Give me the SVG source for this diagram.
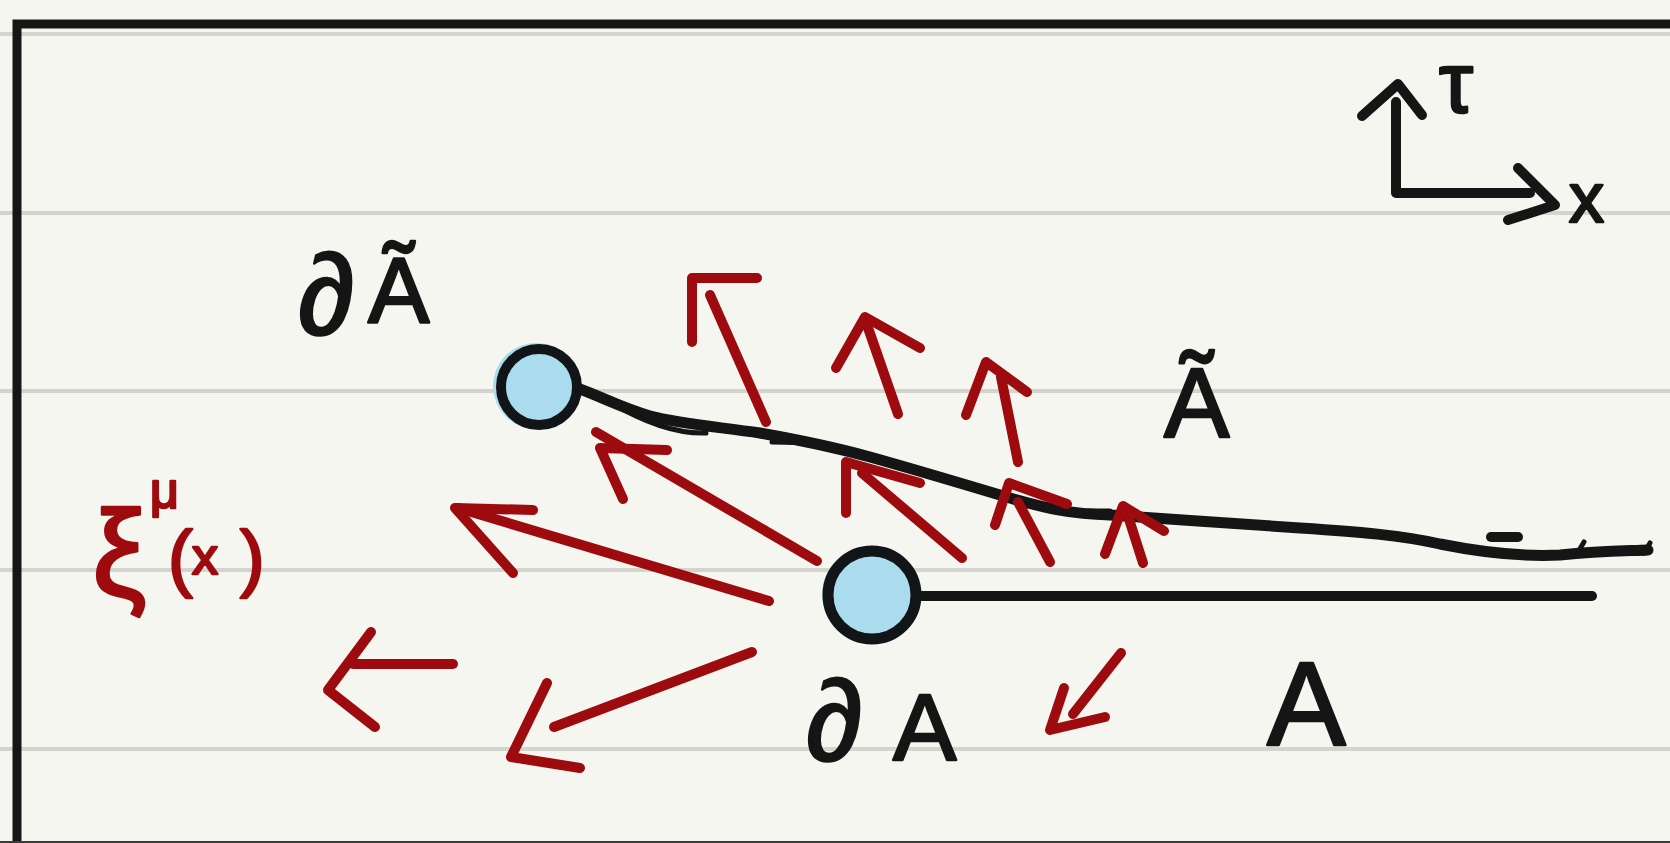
<svg xmlns="http://www.w3.org/2000/svg" width="1670" height="843" viewBox="0 0 1670 843">
  <style>
    .rule { stroke: #d4d4ce; stroke-width: 4; }
    .frame { stroke: #161616; stroke-width: 9; stroke-linecap: round; fill: none; }
    .ink { stroke: #151515; stroke-width: 10; stroke-linecap: round; stroke-linejoin: round; fill: none; }
    .curve { stroke: #151515; stroke-width: 11; stroke-linecap: round; stroke-linejoin: round; fill: none; }
    .thin { stroke: #151515; stroke-width: 5; stroke-linecap: round; fill: none; }
    .vec { stroke: #9e0b0f; stroke-width: 10; stroke-linecap: round; stroke-linejoin: round; fill: none; }
    .halo { fill: #aadcee; }
    .ring { stroke: #121518; fill: none; }
    .lbl { font-family: "Liberation Sans", "DejaVu Sans", sans-serif; fill: #151515; stroke: #151515; stroke-width: 2.5; stroke-linejoin: round; }
    .red { font-family: "Liberation Sans", "DejaVu Sans", sans-serif; fill: #9e0b0f; stroke: #9e0b0f; stroke-width: 2.5; stroke-linejoin: round; }
  </style>

  <!-- paper -->
  <rect x="0" y="0" width="1670" height="843" fill="#f6f6f1"/>
  <g id="rules">
    <line class="rule" x1="0" y1="34" x2="1670" y2="34"/>
    <line class="rule" x1="0" y1="213" x2="1670" y2="213"/>
    <line class="rule" x1="0" y1="391" x2="1670" y2="391"/>
    <line class="rule" x1="0" y1="570" x2="1670" y2="570"/>
    <line class="rule" x1="0" y1="749" x2="1670" y2="749"/>
  </g>
  <g id="frame">
    <path class="frame" d="M17 843 V24 H1674"/>
    <line x1="0" y1="842" x2="1670" y2="842" stroke="#3a3a3a" stroke-width="2"/>
  </g>

  <!-- coordinate axes -->
  <g id="axes">
    <path class="ink" d="M1396 102 V193 H1530"/>
    <polyline class="ink" points="1362,116 1398,84 1422,115"/>
    <polyline class="ink" points="1518,168 1555,205 1508,220"/>
    <text class="lbl" x="1439" y="112" font-size="86">τ</text>
    <text class="lbl" x="1569" y="222" font-size="70">x</text>
  </g>

  <!-- connectors: boundary curves and vector field -->
  <g id="connectors">
    <!-- deformed boundary curve -->
    <path class="curve" d="M577 388 C600 396 622 408 650 416 C680 424 720 427 760 433 C800 440 830 446 870 457 C920 471 970 486 1010 498 C1045 508 1070 514 1110 515 C1170 519 1240 524 1300 528 C1360 532 1400 535 1440 544 C1480 552 1520 557 1560 555 C1600 551 1625 551 1648 550"/>
    <path class="thin" d="M610 402 C640 420 672 434 706 433"/>
    <path class="thin" d="M1300 528 C1340 533 1380 536 1420 540"/>
    <line class="ink" x1="1491" y1="537" x2="1518" y2="537"/>
    <path class="thin" d="M1578 552 L1584 542"/>
    <path class="thin" d="M1644 553 L1650 543"/>
    <line class="thin" x1="772" y1="442" x2="820" y2="443"/>
    <line class="thin" x1="1088" y1="511" x2="1110" y2="511"/>
    <!-- straight boundary -->
    <line class="ink" x1="921" y1="596" x2="1592" y2="596"/>

    <!-- vector field arrows -->
    <polyline class="vec" points="757,278 692,278 692,342"/>
    <line class="vec" x1="710" y1="295" x2="766" y2="422"/>

    <polyline class="vec" points="836,368 865,317 920,348"/>
    <line class="vec" x1="866" y1="322" x2="898" y2="414"/>

    <polyline class="vec" points="966,415 986,362 1027,392"/>
    <line class="vec" x1="1001" y1="377" x2="1018" y2="462"/>

    <polyline class="vec" points="667,450 600,448 623,499"/>
    <line class="vec" x1="596" y1="432" x2="817" y2="561"/>

    <polyline class="vec" points="533,510 455,508 513,573"/>
    <line class="vec" x1="458" y1="508" x2="769" y2="601"/>

    <line class="vec" x1="353" y1="664" x2="453" y2="664"/>
    <polyline class="vec" points="371,632 328,690 375,727"/>

    <polyline class="vec" points="547,683 511,757 580,768"/>
    <line class="vec" x1="554" y1="727" x2="752" y2="652"/>

    <polyline class="vec" points="846,513 846,462 920,483"/>
    <line class="vec" x1="862" y1="473" x2="962" y2="558"/>

    <polyline class="vec" points="995,525 1009,483 1067,504"/>
    <line class="vec" x1="1018" y1="502" x2="1050" y2="562"/>

    <polyline class="vec" points="1105,554 1123,506 1164,531"/>
    <line class="vec" x1="1128" y1="516" x2="1143" y2="563"/>

    <polyline class="vec" points="1064,688 1050,730 1105,717"/>
    <line class="vec" x1="1121" y1="653" x2="1073" y2="714"/>
  </g>

  <!-- endpoint of the deformed boundary -->
  <g id="node-dA-tilde">
    <circle class="halo" cx="536" cy="386" r="43"/>
    <circle class="ring" cx="539" cy="387" r="38" stroke-width="10"/>
  </g>

  <!-- endpoint of the straight boundary -->
  <g id="node-dA">
    <circle class="halo" cx="868" cy="594" r="46"/>
    <circle class="ring" cx="872" cy="595" r="44" stroke-width="11"/>
  </g>

  <!-- labels -->
  <g id="label-dA-tilde">
    <text class="lbl" font-size="92" y="323"><tspan x="298" y="334" font-size="114">∂</tspan><tspan x="368" y="323">Ã</tspan></text>
  </g>
  <g id="label-A-tilde">
    <text class="lbl" font-size="98" x="1164" y="437">Ã</text>
  </g>
  <g id="label-dA">
    <text class="lbl" font-size="95" y="757"><tspan x="806" y="760" font-size="114">∂</tspan><tspan x="893">A</tspan></text>
  </g>
  <g id="label-A">
    <text class="lbl" font-size="118" x="1267" y="745">A</text>
  </g>
  <g id="label-xi">
    <text class="red"><tspan x="92" y="596" font-size="122">ξ</tspan><tspan x="150" y="508" font-size="50">μ</tspan><tspan x="168" y="583" font-size="74">(</tspan><tspan x="192" y="574" font-size="52">x</tspan><tspan x="240" y="583" font-size="74">)</tspan></text>
  </g>
</svg>
